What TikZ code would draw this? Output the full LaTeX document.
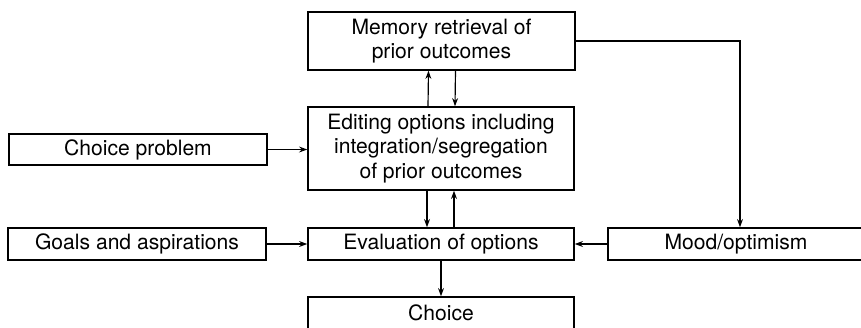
\documentclass[tikz,border=0pt]{standalone}
\usepackage{fontspec}
\setmainfont{TeX Gyre Heros}
\usetikzlibrary{calc,arrows.meta}

\begin{document}
\begin{tikzpicture}[x = 0.03cm, y = -0.03cm,
        box/.style = {draw, line width = 1.2pt, align = center, inner sep = 0pt,
                      font = \fontsize{18}{21}\selectfont},
        link/.style = {draw, line width = 1pt, -{Stealth[length = 7pt, width = 5pt]}}]
        % frame
        \useasboundingbox(0,0)rectangle(861,327);
        \clip(0,0)rectangle(861,327);
        % boxes
        \node[box, minimum width = 8.01cm, minimum height = 1.74cm](mem)at(441.5,41){Memory retrieval of\\prior outcomes};
        \node[box, minimum width = 7.98cm, minimum height = 2.49cm](edit)at(441,148.5){Editing options including\\integration/segregation\\of prior outcomes};
        \node[box, minimum width = 7.74cm, minimum height = 0.93cm](prob)at(138,149.5){Choice problem};
        \node[box, minimum width = 7.74cm, minimum height = 0.96cm](goals)at(137,244){Goals and aspirations};
        \node[box, minimum width = 7.98cm, minimum height = 0.96cm](eval)at(441,244){Evaluation of options};
        \node[box, minimum width = 7.68cm, minimum height = 0.96cm](mood)at(736,244){Mood/optimism};
        \node[box, minimum width = 7.98cm, minimum height = 0.96cm](choice)at(441,313){Choice};
        % arrows
        \path[link]($(edit.north)+(-13,0)$)to($(mem.south)+(-13,0)$);
        \path[link]($(mem.south)+(14,0)$)to($(edit.north)+(14,0)$);
        \path[link](prob.east)to(prob.east -| edit.west);
        \path[link]($(edit.south)+(-14,0)$)to($(eval.north)+(-14,0)$);
        \path[link]($(eval.north)+(13,0)$)to($(edit.south)+(13,0)$);
        \path[link](goals)to(eval);
        \path[link](mood)to(eval);
        \path[link](eval)to(choice);
        \path[link](mem.east)-|($(mood.north)+(4,0)$);
\end{tikzpicture}
\end{document}
